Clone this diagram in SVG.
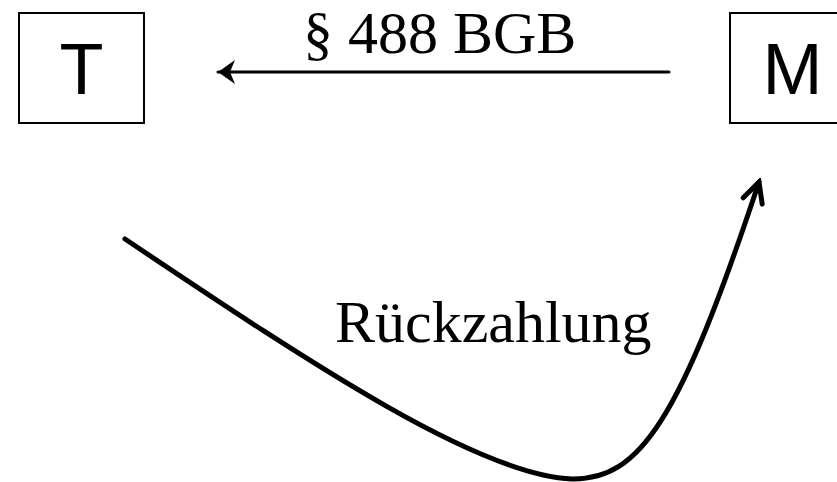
<svg xmlns="http://www.w3.org/2000/svg" width="837" height="482" viewBox="0 0 837 482">
<style>
.box{fill:#fff;stroke:#000;stroke-width:2}
.lbl{font-family:"Liberation Sans",Arial,sans-serif;font-size:72px;fill:#000;text-anchor:middle}
.ser{font-family:"Liberation Serif","Times New Roman",serif;font-size:60px;fill:#000}
.con{fill:none;stroke:#000;stroke-linecap:round;stroke-linejoin:round}
</style>
<defs>
<marker id="ah" markerUnits="userSpaceOnUse" viewBox="-20 -14 24 28" refX="0" refY="0" markerWidth="24" markerHeight="28" orient="auto">
<path d="M0,0 L-17,-12 L-12,0 L-17,12 Z" fill="#000" stroke="none"/>
</marker>
<marker id="ah2" markerUnits="userSpaceOnUse" viewBox="-24 -14 28 28" refX="0" refY="0" markerWidth="28" markerHeight="28" orient="auto">
<path d="M-20,-10 L0,0 L-20,10" fill="none" stroke="#000" stroke-width="5" stroke-linecap="round" stroke-linejoin="miter"/>
</marker>
</defs>
<g id="node-T">
<rect class="box" x="19" y="13" width="125" height="110"/>
<text class="lbl" x="81.5" y="94">T</text>
</g>
<g id="node-M">
<rect class="box" x="730" y="13" width="125" height="110"/>
<text class="lbl" x="792.5" y="94">M</text>
</g>
<g id="connectors">
<line class="con" x1="669" y1="72" x2="218" y2="72" stroke-width="3" stroke-linecap="butt" marker-end="url(#ah)"/>
<text class="ser" x="303" y="53">§ 488 BGB</text>
<path class="con" d="M125,239 C320,370 480,475 572,479 C640,480 680,420 759,182" stroke-width="5" marker-end="url(#ah2)"/>
<text class="ser" x="335" y="342">Rückzahlung</text>
</g>
</svg>
